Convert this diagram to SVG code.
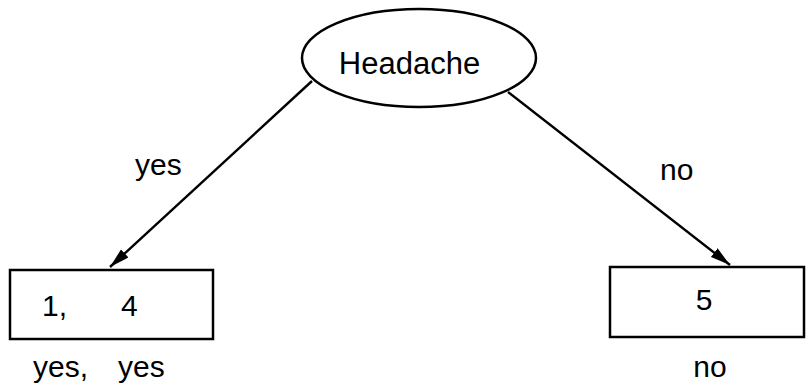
<svg xmlns="http://www.w3.org/2000/svg" width="806" height="387" viewBox="0 0 806 387">
  <style>
    .shape { fill: #fff; stroke: #000; stroke-width: 2.5; }
    .edge { stroke: #000; stroke-width: 2.4; fill: none; }
    text { font-family: "Liberation Sans", Arial, sans-serif; font-size: 30px; fill: #000; }
    .title { font-size: 31px; }
  </style>
  <defs>
    <marker id="arrow" viewBox="0 0 20 11" refX="20" refY="5.5" markerWidth="20" markerHeight="11" markerUnits="userSpaceOnUse" orient="auto">
      <path d="M0,0 L20,5.5 L0,11 Z" fill="#000"/>
    </marker>
  </defs>

  <g id="connectors">
    <line class="edge" x1="312" y1="81" x2="110" y2="267" marker-end="url(#arrow)"/>
    <text x="135" y="175">yes</text>
    <line class="edge" x1="508" y1="92" x2="730" y2="265" marker-end="url(#arrow)"/>
    <text x="660" y="180">no</text>
  </g>

  <g id="node-headache">
    <ellipse class="shape" cx="419" cy="58" rx="117" ry="49"/>
    <text class="title" x="409.5" y="74" text-anchor="middle">Headache</text>
  </g>

  <g id="node-yes">
    <rect class="shape" x="10" y="270" width="203" height="69"/>
    <text x="42" y="316">1,</text>
    <text x="121" y="316">4</text>
    <text x="33" y="377">yes,</text>
    <text x="118" y="377">yes</text>
  </g>

  <g id="node-no">
    <rect class="shape" x="610" y="267" width="194" height="70"/>
    <text x="704" y="310" text-anchor="middle">5</text>
    <text x="710" y="377" text-anchor="middle">no</text>
  </g>
</svg>
